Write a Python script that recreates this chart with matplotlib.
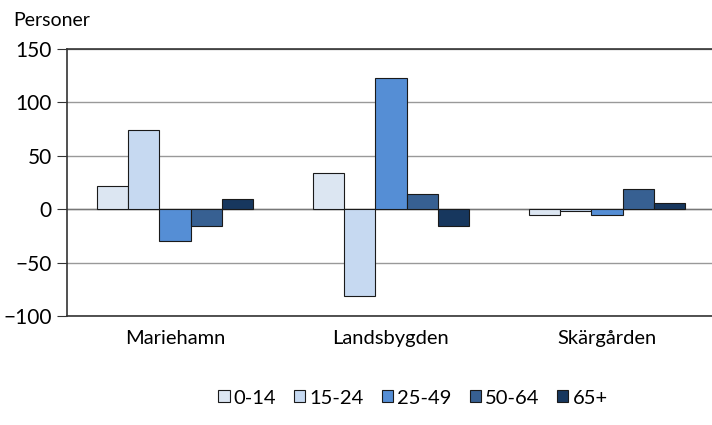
import numpy as np
import matplotlib.pyplot as plt

# Data
regions = ['Mariehamn', 'Landsbygden', 'Skärgården']
age_groups = ['0-14', '15-24', '25-49', '50-64', '65+']
values = {
    '0-14': [22, 34, -5],
    '15-24': [74, -81, -2],
    '25-49': [-30, 123, -5],
    '50-64': [-16, 14, 19],
    '65+': [10, -16, 6],
}
colors = ['#DCE6F2', '#C6D9F1', '#558ED5', '#376092', '#17375E']

plt.rcParams['font.family'] = ['Lato', 'DejaVu Sans']

fig = plt.figure(figsize=(7.12, 4.25), dpi=100)
# right side of the chart is cut off by the image edge
ax = fig.add_axes([67 / 712, 109 / 425, 648 / 712, 267 / 425])

x = np.arange(len(regions))
bar_w = 0.145
for i, grp in enumerate(age_groups):
    offs = (i - 2) * bar_w
    ax.bar(x + offs, values[grp], width=bar_w, color=colors[i],
           edgecolor='#1a1a1a', linewidth=0.8, label=grp, zorder=3)

ax.set_xlim(-0.5, 2.5)
ax.set_ylim(-100, 150)
ax.set_yticks(np.arange(-100, 151, 50))
ax.yaxis.grid(True, color='#999999', linewidth=1, zorder=0)
ax.axhline(0, color='#777777', linewidth=1, zorder=2)
ax.set_xticks(x)
ax.set_xticklabels(regions, fontsize=14.5)
ax.tick_params(axis='x', length=0, pad=10)
ax.tick_params(axis='y', labelsize=15, length=7, color='#333333', direction='out', pad=4)

for side in ['left', 'bottom', 'top']:
    ax.spines[side].set_color('#333333')
    ax.spines[side].set_linewidth(1.2)
ax.spines['right'].set_visible(False)

fig.text(13 / 712, 1 - 20 / 425, 'Personer', fontsize=14, va='center', ha='left')

fig.legend(loc='center', bbox_to_anchor=(413 / 712, 1 - 398 / 425), ncol=5,
           frameon=False, fontsize=14.5, handlelength=0.55, handleheight=0.55,
           handletextpad=0.2, columnspacing=0.9, borderpad=0)

fig.savefig('out.png', dpi=100)
